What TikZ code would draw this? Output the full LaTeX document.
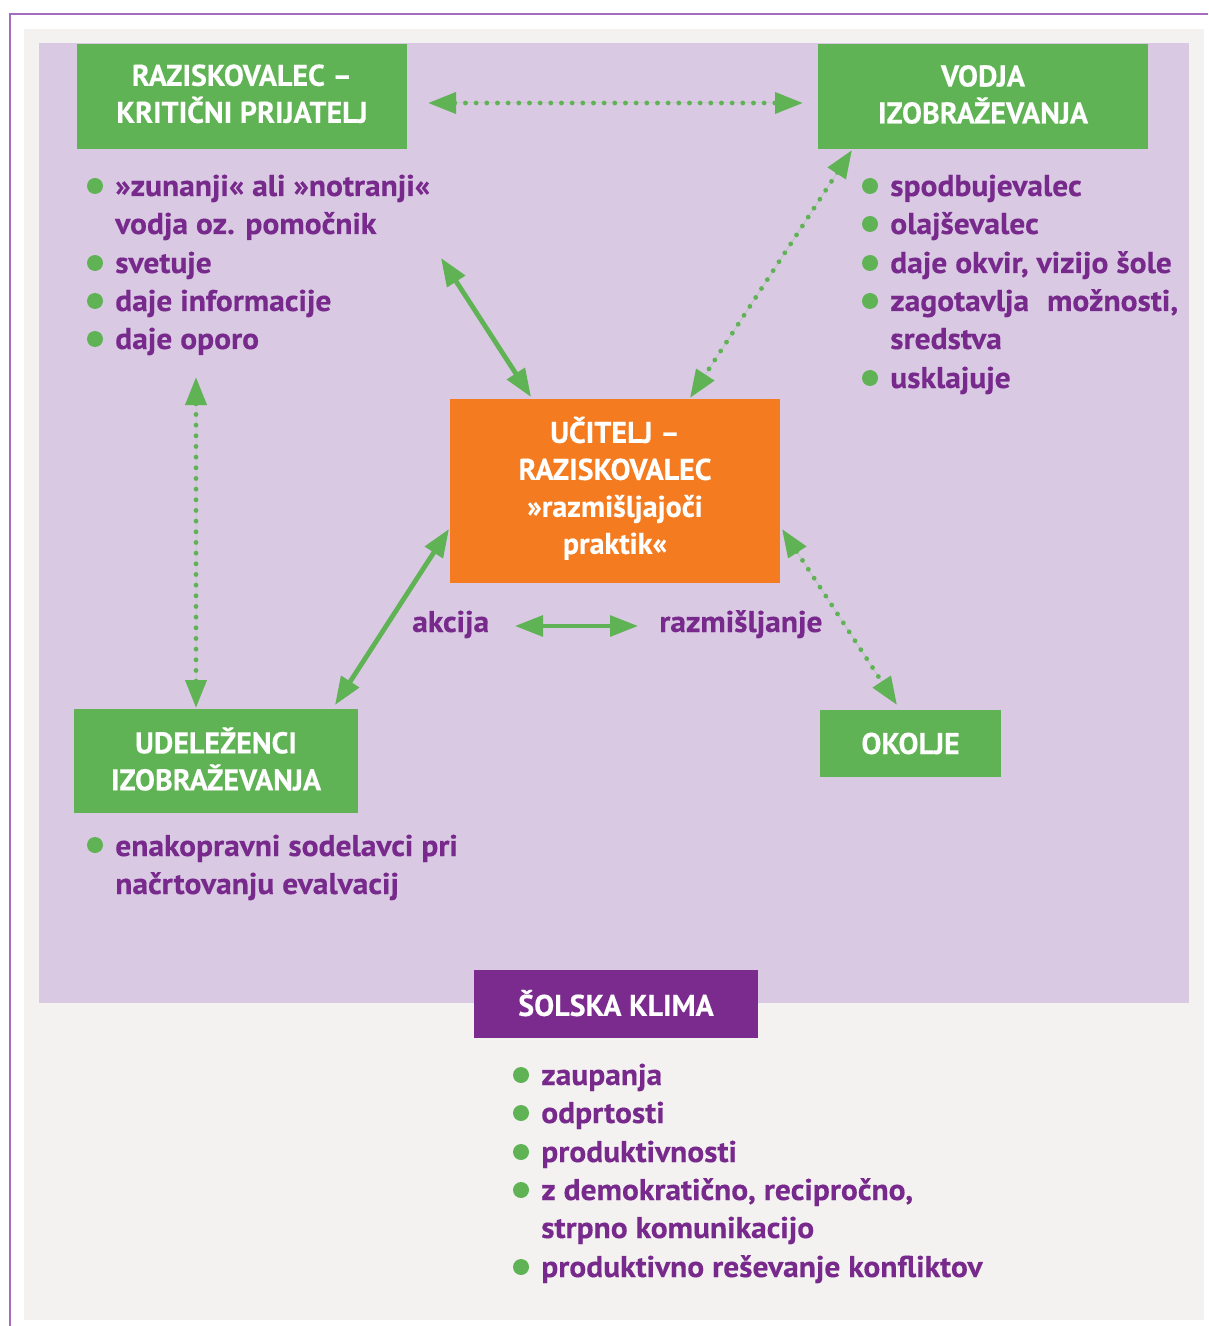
\documentclass[tikz,border=0pt]{standalone}
\usepackage{fontspec}
\setmainfont{PT Sans}[FakeStretch=1.05, BoldFeatures={FakeBold=0.3}]
\newfontfamily\boxfont{PT Sans}[BoldFeatures={FakeBold=0.3}]
\usetikzlibrary{arrows.meta}
\definecolor{frameline}{HTML}{A46BBF}
\definecolor{greybg}{HTML}{F3F2F1}
\definecolor{lav}{HTML}{D9C9E3}
\definecolor{gbox}{HTML}{5FB354}
\definecolor{obox}{HTML}{F47B20}
\definecolor{pbox}{HTML}{7B2A8E}
\definecolor{tpurple}{HTML}{782A8C}
\tikzset{
  fnt/.style={font=\fontsize{22.5}{27.75}\selectfont\bfseries},
  item/.style={fnt, text=tpurple, inner sep=0pt, anchor=base west},
  boxtext/.style={font=\boxfont\fontsize{22.5}{27.75}\selectfont\bfseries, text=white, align=center, inner sep=0pt},
  boxs/.style={inner sep=0pt, draw=none},
  bul/.style={fill=gbox, draw=none},
  solidarrow/.style={draw=gbox, fill=gbox, line width=3.6pt, {Triangle[length=21pt,width=15.5pt]}-{Triangle[length=21pt,width=15.5pt]}},
  dotarrow/.style={draw=gbox, fill=gbox, line width=3.6pt, line cap=round, dash pattern=on 0pt off 8pt, {Triangle[length=21pt,width=15.5pt]}-{Triangle[length=21pt,width=15.5pt]}},
}
\begin{document}
\begin{tikzpicture}[x=0.75pt,y=-0.75pt]
\useasboundingbox (0,0) rectangle (1208,1326);
% frame and backgrounds
\fill[white] (0,0) rectangle (1208,1326);
\draw[frameline, line width=1.5pt] (1208,14) -- (10,14) -- (10,1326);
\fill[greybg] (24,29) rectangle (1204,1320);
\fill[lav] (39,43) rectangle (1189,1003);

% boxes
\node[boxs, fill=gbox, minimum width=330*0.75pt, minimum height=105*0.75pt] (rk) at (242,96.5) {};
\node[boxtext] (rkt) at ([yshift=2pt]rk.center) {RAZISKOVALEC –\\KRITIČNI PRIJATELJ};
\node[boxs, fill=gbox, minimum width=330*0.75pt, minimum height=105*0.75pt] (vodja) at (983,96.5) {};
\node[boxtext] (vodjat) at ([yshift=1.5pt]vodja.center) {VODJA\\IZOBRAŽEVANJA};
\node[boxs, fill=obox, minimum width=330*0.75pt, minimum height=184*0.75pt] (uc) at (615,491) {};
\node[boxtext] (uct) at ([yshift=2pt]uc.center) {UČITELJ –\\RAZISKOVALEC\\»razmišljajoči\\praktik«};
\node[boxs, fill=gbox, minimum width=284*0.75pt, minimum height=104*0.75pt] (ud) at (216,761) {};
\node[boxtext] (udt) at ([yshift=1.5pt]ud.center) {UDELEŽENCI\\IZOBRAŽEVANJA};
\node[boxs, fill=gbox, minimum width=181*0.75pt, minimum height=67*0.75pt] (ok) at (910.5,743.5) {};
\node[boxtext] (okt) at (ok.center) {OKOLJE};
\node[boxs, fill=pbox, minimum width=284*0.75pt, minimum height=68*0.75pt] (sk) at (616,1004) {};
\node[boxtext] (skt) at ([yshift=0.7pt]sk.center) {ŠOLSKA KLIMA};

% left list
\foreach \y in {186,263,301,339} \fill[bul] (95,\y) circle (8);
\node[item] (l1) at (115,196) {»zunanji« ali »notranji«};
\node[item] (l1b) at (115,234) {vodja oz. pomočnik};
\node[item] (l2) at (115,273) {svetuje};
\node[item] (l3) at (115,311) {daje informacije};
\node[item] (l4) at (115,349) {daje oporo};

% right list
\foreach \y in {186,224,263,301,378} \fill[bul] (870,\y) circle (8);
\node[item] (r1) at (890,196) {spodbujevalec};
\node[item] (r2) at (890,234) {olajševalec};
\node[item] (r3) at (890,273) {daje okvir, vizijo šole};
\node[item] (r4) at (890,311) {\makebox[216pt][s]{zagotavlja možnosti,}};
\node[item] (r4b) at (890,349) {sredstva};
\node[item] (r5) at (890,388) {usklajuje};

% udelezenci list
\fill[bul] (95,845) circle (8);
\node[item] (u1) at (115,856) {enakopravni sodelavci pri};
\node[item] (u1b) at (115,894) {načrtovanju evalvacij};

% bottom list
\foreach \y in {1075,1113,1152,1190,1267} \fill[bul] (521,\y) circle (8);
\node[item] (b1) at (541,1085) {zaupanja};
\node[item] (b2) at (541,1123) {odprtosti};
\node[item] (b3) at (541,1162) {produktivnosti};
\node[item] (b4) at (541,1200) {z demokratično, recipročno,};
\node[item] (b4b) at (541,1238) {strpno komunikacijo};
\node[item] (b5) at (541,1277) {produktivno reševanje konfliktov};

% labels
\node[item] (akc) at (412,632) {akcija};
\node[item] (raz) at (659,632) {razmišljanje};

% connector end points
\coordinate (rkR) at (428,103);
\coordinate (voL) at (803,103);
\coordinate (rkS) at (441,258);
\coordinate (ucN) at (531,397);
\coordinate (voS) at (852,150);
\coordinate (ucNE) at (690,398);
\coordinate (rkD) at (196,377);
\coordinate (udN) at (196,708);
\coordinate (ucW) at (449,529);
\coordinate (udNE) at (335,705);
\coordinate (akR) at (515,626);
\coordinate (raL) at (638,626);
\coordinate (ucE) at (782,529);
\coordinate (okN) at (897,705);

\draw[dotarrow] (rkR) -- (voL);
\draw[solidarrow] (rkS) -- (ucN);
\draw[dotarrow] (voS) -- (ucNE);
\draw[dotarrow] (rkD) -- (udN);
\draw[solidarrow] (ucW) -- (udNE);
\draw[solidarrow, line width=3pt] (akR) -- (raL);
\draw[dotarrow] (ucE) -- (okN);
\end{tikzpicture}
\end{document}
